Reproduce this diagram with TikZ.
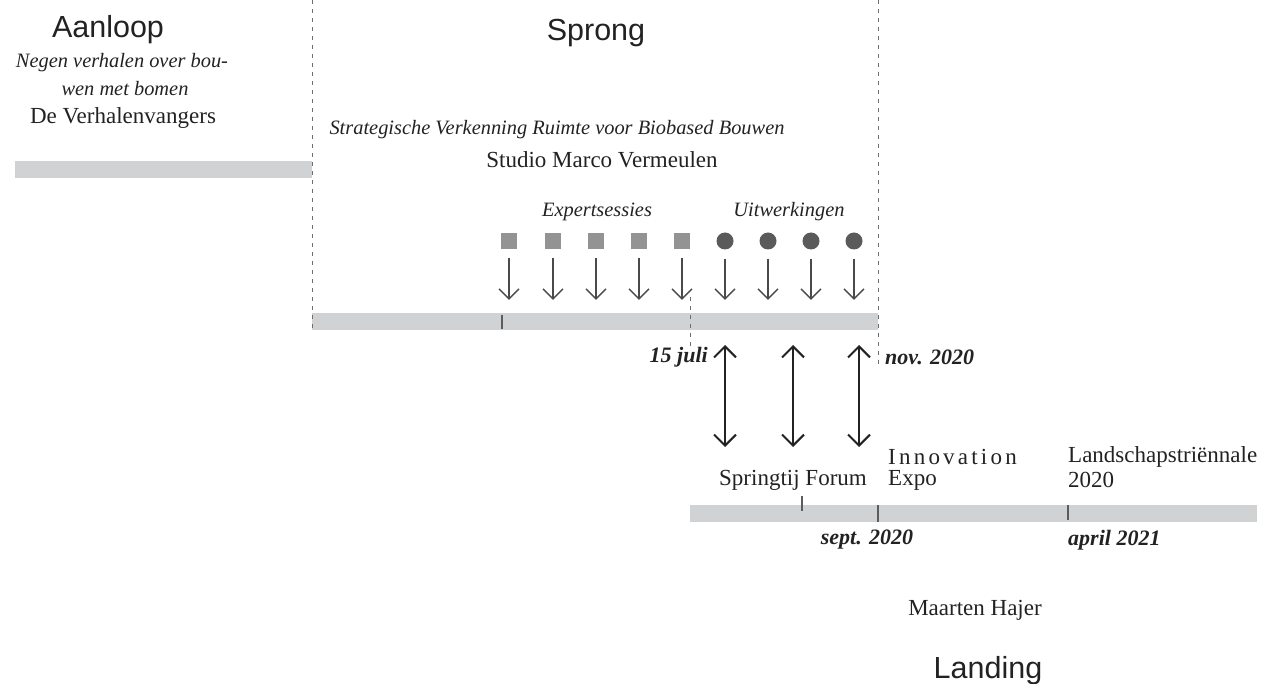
\documentclass[tikz,border=0pt]{standalone}
\usepackage{fontspec}
\setmainfont{Liberation Serif}
\newfontfamily\headfont{Liberation Sans}
\newfontfamily\spacedfont[LetterSpace=14]{Liberation Serif}
\usetikzlibrary{arrows.meta}
\definecolor{barg}{HTML}{D1D2D4}
\definecolor{sqg}{HTML}{939393}
\definecolor{dotg}{HTML}{5A5A5A}
\definecolor{arrg}{HTML}{4A4A4A}
\definecolor{guideg}{HTML}{6E6E6E}
\definecolor{tickg}{HTML}{5C5C5C}
\definecolor{ink}{HTML}{222222}
\tikzset{
  head/.style={font=\headfont\fontsize{30.5}{34}\selectfont, inner sep=0, text=ink, anchor=base},
  txt/.style={font=\fontsize{23}{26}\selectfont, inner sep=0, text=ink},
  itx/.style={font=\itshape\fontsize{20.4}{24}\selectfont, inner sep=0, text=ink},
  datelbl/.style={font=\bfseries\itshape\fontsize{22}{26}\selectfont, inner sep=0, text=ink},
  bar/.style={rectangle, fill=barg, draw=none, inner sep=0, minimum height=17pt},
  sq/.style={rectangle, fill=sqg, minimum size=16pt, inner sep=0},
  dot/.style={circle, fill=dotg, minimum size=17pt, inner sep=0},
  guide/.style={draw=guideg, dash pattern=on 4pt off 5pt, line width=1pt},
  tickmark/.style={draw=tickg, line width=1.5pt},
  down/.style={-{Straight Barb[length=10pt,width=20pt,line width=1.3pt]}, draw=arrg, line width=1.3pt},
  both/.style={{Straight Barb[length=11pt,width=22pt,line width=2pt]}-{Straight Barb[length=11pt,width=22pt,line width=2pt]}, draw=ink, line width=2pt}
}
\begin{document}
\begin{tikzpicture}[x=1pt,y=-1pt]
\useasboundingbox (0,0) rectangle (1280,684);

% bars
\node[bar, minimum width=297pt] (bar1) at (163.5,169.5) {};
\node[bar, minimum width=566pt] (bar2) at (595,321.5) {};
\node[bar, minimum width=567pt] (bar3) at (973.5,513.5) {};

% dashed guides
\coordinate (gLt) at (312,0);   \coordinate (gLb) at (312,332);
\coordinate (gRt) at (878,0);   \coordinate (gRb) at (878,365);
\coordinate (gMt) at (690,297); \coordinate (gMb) at (690,347);
\draw[guide] (gLt) -- (gLb);
\draw[guide] (gRt) -- (gRb);
\draw[guide] (gMt) -- (gMb);

% ticks
\coordinate (t1a) at (502,315); \coordinate (t1b) at (502,329);
\coordinate (t2a) at (802,496); \coordinate (t2b) at (802,511);
\coordinate (t3a) at (878,505); \coordinate (t3b) at (878,522);
\coordinate (t4a) at (1068,505); \coordinate (t4b) at (1068,520);
\draw[tickmark] (t1a) -- (t1b);
\draw[tickmark] (t2a) -- (t2b);
\draw[tickmark] (t3a) -- (t3b);
\draw[tickmark] (t4a) -- (t4b);

% headings
\node[head] (aanloop) at (108,38) {Aanloop};
\node[head] (sprong) at (596,41) {Sprong};
\node[head] (landing) at (988,678) {Landing};

% Aanloop texts
\node[itx] (negen1) at (122,63) {Negen verhalen over bou-};
\node[itx] (negen2) at (125,89) {wen met bomen};
\node[txt] (verh) at (123,118) {De Verhalenvangers};

% Sprong texts
\node[itx] (strat) at (557,130) {Strategische Verkenning Ruimte voor Biobased Bouwen};
\node[txt] (studio) at (602,160) {Studio Marco Vermeulen};
\node[itx] (expert) at (597,212) {Expertsessies};
\node[itx] (uitw) at (789,212) {Uitwerkingen};

% squares and dots
\foreach \i/\x in {1/509,2/553,3/596,4/639,5/682}{
  \node[sq] (s\i) at (\x,241) {};
  \draw[down] ([yshift=-9pt]s\i.south) -- ([yshift=13pt]s\i.south |- bar2.north);
}
\foreach \i/\x in {1/725,2/768,3/811,4/854}{
  \node[dot] (c\i) at (\x,241) {};
  \draw[down] ([yshift=-9pt]c\i.south) -- ([yshift=13pt]c\i.south |- bar2.north);
}

% dates
\node[datelbl, anchor=east] (juli) at (708,357) {15 juli};
\node[datelbl, anchor=west] (nov) at (885,357) {nov. 2020};
\node[datelbl] (sept) at (867,540) {sept. 2020};
\node[datelbl, anchor=west] (april) at (1068,540) {april 2021};

% double arrows
\foreach \i/\x in {1/725,2/793,3/859}{
  \coordinate (u\i) at (\x,345);
  \coordinate (l\i) at (\x,447);
  \draw[both] (u\i) -- (l\i);
}

% Landing texts
\node[txt] (spring) at (793,480) {Springtij Forum};
\node[txt, anchor=west] (innov) at (888,457) {\spacedfont Innovation};
\node[txt, anchor=west] (expo) at (888,480) {Expo};
\node[txt, anchor=west] (lands) at (1068,457) {Landschapstriënnale};
\node[txt, anchor=west] (y2020) at (1068,480) {2020};
\node[txt] (hajer) at (975,610) {Maarten Hajer};

\end{tikzpicture}
\end{document}
